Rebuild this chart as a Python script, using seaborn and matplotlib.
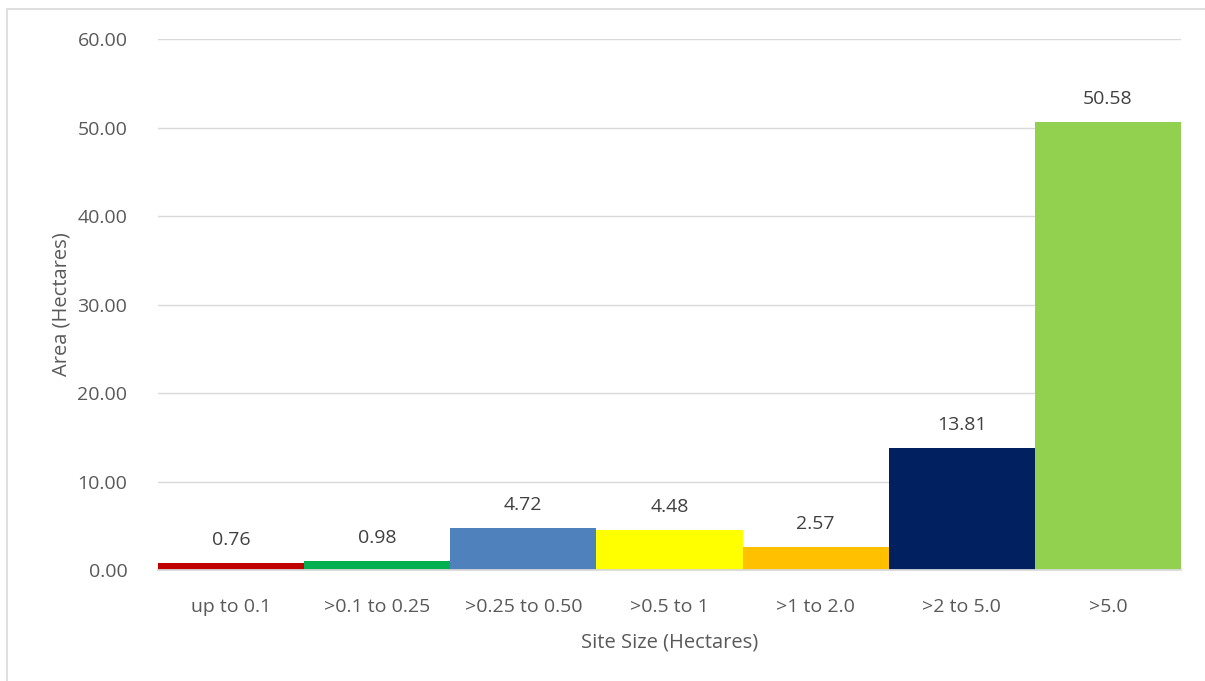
import matplotlib
matplotlib.use("Agg")
import matplotlib.pyplot as plt
import seaborn as sns
import pandas as pd
from matplotlib.patches import Rectangle

# data
site_sizes = ["up to 0.1", ">0.1 to 0.25", ">0.25 to 0.50", ">0.5 to 1",
              ">1 to 2.0", ">2 to 5.0", ">5.0"]
area_ha = [0.76, 0.98, 4.72, 4.48, 2.57, 13.81, 50.58]
bar_colors = ["#C00000", "#00B050", "#4F81BD", "#FFFF00",
              "#FFC000", "#002060", "#92D050"]

df = pd.DataFrame({"size": site_sizes, "area": area_ha})

sns.set_style("white")
plt.rcParams["font.family"] = ["Open Sans", "DejaVu Sans"]
txt = "#595959"

fig = plt.figure(figsize=(12.05, 6.81), dpi=100)
ax = fig.add_axes([0.1311, 0.163, 0.849, 0.7797])

sns.barplot(data=df, x="size", y="area", hue="size", palette=bar_colors,
            width=1.0, dodge=False, legend=False, saturation=1,
            linewidth=0, ax=ax)

for c in ax.containers:
    ax.bar_label(c, fmt="%.2f", padding=10, fontsize=14, color="#404040")

ax.set_ylim(0, 60)
ax.set_xlim(-0.5, len(site_sizes) - 0.5)
ax.set_yticks(range(0, 61, 10))
ax.set_yticklabels([f"{v:.2f}" for v in range(0, 61, 10)])
ax.yaxis.grid(True, color="#D9D9D9", linewidth=1)
ax.set_axisbelow(True)
for s in ["top", "right", "left"]:
    ax.spines[s].set_visible(False)
ax.spines["bottom"].set_color("#D9D9D9")
ax.spines["bottom"].set_linewidth(1.3)
ax.tick_params(axis="both", length=0, labelsize=14, colors=txt)
ax.tick_params(axis="x", pad=20)
ax.tick_params(axis="y", pad=22)

ax.set_xlabel("Site Size (Hectares)", fontsize=14.5, color=txt, labelpad=12)
ax.set_ylabel("Area (Hectares)", fontsize=14.5, color=txt, labelpad=4)

# chart area border (right and bottom edges fall outside the image)
fig.patches.append(Rectangle((7 / 1205, -0.05), 1.1, 1.05 - 9 / 681,
                             transform=fig.transFigure, fill=False,
                             edgecolor="#D9D9D9", linewidth=1.2))

fig.savefig("out.png", dpi=100)
